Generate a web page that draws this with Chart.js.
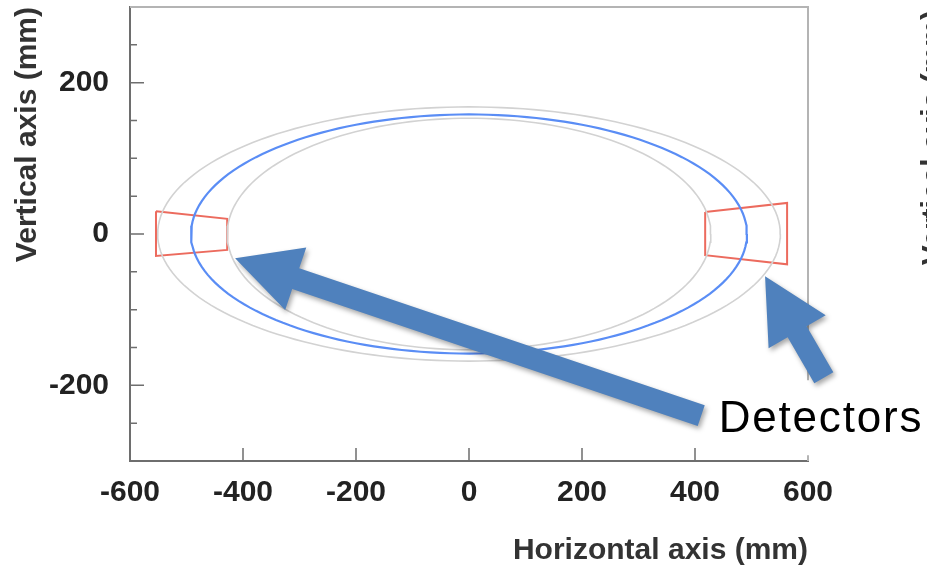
<!DOCTYPE html>
<html>
<head>
<meta charset="utf-8">
<script src="https://cdn.jsdelivr.net/npm/chart.js@4.4.1/dist/chart.umd.min.js"></script>
<style>
    html, body { margin: 0; padding: 0; background: #fff; }
    #marco { width: 927px; height: 570px; }
</style>
</head>
<body>
<div id="marco"><canvas id="grafico" width="927" height="570"></canvas></div>
<script>
// Ejes
const xTicks = [-600, -400, -200, 0, 200, 400, 600];
const yTicks = [-300, -250, -200, -150, -100, -50, 0, 50, 100, 150, 200, 250, 300];
const yLabels = [-200, 0, 200];

// Elipses (semiejes en mm, centradas en 0,0)
const ellipseNames = ['exterior', 'haz', 'interior'];
const ellipseHalfX = [551, 492, 428];
const ellipseHalfY = [168, 158, 153];

// Detectores (esquinas en mm)
const leftDetX = [-554, -428, -428, -554];
const leftDetY = [30, 20, -21, -29];
const rightDetX = [418, 563, 563, 418];
const rightDetY = [29, 41, -40, -28];

// Anotaciones (en mm)
const labelText = 'Detectors';
const labelAnchor = [442, -262];
const arrowTails = [[411, -240], [628, -190]];
const arrowTips = [[-414, -32], [524, -56]];

const COLORES = {
    GRIS: '#d2d2d2',
    AZUL: '#5a8df5',
    ROJO: '#ec6b5e',
    FLECHA: '#4f81bd',
    EJE: '#6e6e6e',
    MARCO: '#b4b4b4',
    TEXTO: '#222'
};
const FUENTE = '"Liberation Sans", Arial, Helvetica, sans-serif';

function elipse(ax, by) {
    const pts = [];
    for (let g = 0; g <= 360; g += 2) {
        const a = g * Math.PI / 180;
        pts.push({ x: ax * Math.cos(a), y: by * Math.sin(a) });
    }
    return pts;
}

function poligono(xs, ys) {
    const pts = xs.map((x, i) => ({ x, y: ys[i] }));
    pts.push(pts[0]);
    return pts;
}

const lineas = ellipseNames.map((nombre, i) => ({
    label: nombre,
    data: elipse(ellipseHalfX[i], ellipseHalfY[i]),
    borderColor: nombre === 'haz' ? COLORES.AZUL : COLORES.GRIS,
    borderWidth: nombre === 'haz' ? 2.2 : 1.6
}));
lineas.push({ label: 'det-izq', data: poligono(leftDetX, leftDetY), borderColor: COLORES.ROJO, borderWidth: 2 });
lineas.push({ label: 'det-der', data: poligono(rightDetX, rightDetY), borderColor: COLORES.ROJO, borderWidth: 2 });

function flecha(ctx, x0, y0, x1, y1) {
    const len = Math.hypot(x1 - x0, y1 - y0);
    const ux = (x1 - x0) / len, uy = (y1 - y0) / len;
    const nx = -uy, ny = ux;
    const w = 11, hw = 33, hl = 64;
    const bx = x1 - ux * hl, by = y1 - uy * hl;
    ctx.beginPath();
    ctx.moveTo(x0 + nx * w, y0 + ny * w);
    ctx.lineTo(bx + nx * w, by + ny * w);
    ctx.lineTo(bx + nx * hw, by + ny * hw);
    ctx.lineTo(x1, y1);
    ctx.lineTo(bx - nx * hw, by - ny * hw);
    ctx.lineTo(bx - nx * w, by - ny * w);
    ctx.lineTo(x0 - nx * w, y0 - ny * w);
    ctx.closePath();
    ctx.fill();
}

function sinRelleno(s) {
    s.paddingTop = 0;
    s.paddingBottom = 0;
    s.paddingLeft = 0;
    s.paddingRight = 0;
}

const marcoPlugin = {
    id: 'marco',
    beforeDatasetsDraw(chart) {
        const { ctx, chartArea: a, scales } = chart;
        ctx.save();
        // borde superior y derecho
        ctx.strokeStyle = COLORES.MARCO;
        ctx.lineWidth = 2;
        ctx.beginPath();
        ctx.moveTo(a.left, a.top);
        ctx.lineTo(a.right, a.top);
        ctx.lineTo(a.right, a.bottom);
        ctx.stroke();
        // marcas hacia dentro
        ctx.strokeStyle = COLORES.EJE;
        ctx.lineWidth = 1.5;
        ctx.beginPath();
        xTicks.slice(1, -1).forEach(v => {
            const px = scales.x.getPixelForValue(v);
            ctx.moveTo(px, a.bottom);
            ctx.lineTo(px, a.bottom - 13);
        });
        yTicks.slice(1, -1).forEach(v => {
            const py = scales.y.getPixelForValue(v);
            ctx.moveTo(a.left, py);
            ctx.lineTo(a.left + (yLabels.includes(v) ? 14 : 7), py);
        });
        ctx.stroke();
        ctx.restore();
    },
    afterDraw(chart) {
        const { ctx, chartArea: a, scales } = chart;
        const px = v => scales.x.getPixelForValue(v);
        const py = v => scales.y.getPixelForValue(v);
        ctx.save();

        // titulo cortado del panel vecino
        ctx.fillStyle = '#333';
        ctx.font = `bold 30px ${FUENTE}`;
        ctx.textAlign = 'right';
        ctx.textBaseline = 'middle';
        ctx.translate(chart.width + 7, a.top + 3);
        ctx.rotate(-Math.PI / 2);
        ctx.fillText('Vertical axis (mm)', 0, 0);
        ctx.setTransform(1, 0, 0, 1, 0, 0);

        // caja de texto
        const tx = px(labelAnchor[0]);
        const ty = py(labelAnchor[1]);
        ctx.fillStyle = '#fff';
        ctx.fillRect(tx - 8, ty - 52, chart.width - tx + 8, 75);

        // flechas
        ctx.fillStyle = COLORES.FLECHA;
        ctx.shadowColor = 'rgba(0,0,0,0.35)';
        ctx.shadowBlur = 5;
        ctx.shadowOffsetX = 2;
        ctx.shadowOffsetY = 3;
        arrowTails.forEach((t, i) => {
            flecha(ctx, px(t[0]), py(t[1]), px(arrowTips[i][0]), py(arrowTips[i][1]));
        });
        ctx.shadowColor = 'transparent';

        ctx.fillStyle = '#000';
        ctx.font = `44px ${FUENTE}`;
        ctx.letterSpacing = '1.8px';
        ctx.textAlign = 'left';
        ctx.textBaseline = 'alphabetic';
        ctx.fillText(labelText, tx, ty);
        ctx.restore();
    }
};

new Chart(document.getElementById('grafico').getContext('2d'), {
    type: 'scatter',
    data: { datasets: lineas },
    options: {
        responsive: false,
        animation: false,
        showLine: true,
        layout: { padding: { top: 7, right: 119, left: 0, bottom: 0 } },
        elements: { point: { radius: 0 }, line: { tension: 0, fill: false } },
        plugins: { legend: { display: false }, tooltip: { enabled: false } },
        scales: {
            x: {
                type: 'linear',
                min: -600,
                max: 600,
                afterBuildTicks: s => { s.ticks = xTicks.map(v => ({ value: v })); },
                afterFit: s => { s.height = 109; sinRelleno(s); },
                grid: { display: false, drawTicks: false },
                border: { display: true, color: COLORES.EJE, width: 2 },
                ticks: {
                    padding: 14,
                    maxRotation: 0,
                    autoSkip: false,
                    color: COLORES.TEXTO,
                    font: { family: FUENTE, size: 30, weight: 'bold' }
                },
                title: {
                    display: true,
                    text: 'Horizontal axis (mm)',
                    align: 'end',
                    color: '#333',
                    padding: { top: 0, bottom: 1 },
                    font: { family: FUENTE, size: 30, weight: 'bold' }
                }
            },
            y: {
                type: 'linear',
                min: -300,
                max: 300,
                afterBuildTicks: s => { s.ticks = yTicks.map(v => ({ value: v })); },
                afterFit: s => { s.width = 130; sinRelleno(s); },
                grid: { display: false, drawTicks: false },
                border: { display: true, color: COLORES.EJE, width: 2 },
                ticks: {
                    padding: 21,
                    autoSkip: false,
                    color: COLORES.TEXTO,
                    font: { family: FUENTE, size: 30, weight: 'bold' },
                    callback: v => (yLabels.includes(v) ? String(v) : '')
                },
                title: {
                    display: true,
                    text: 'Vertical axis (mm)',
                    align: 'end',
                    color: '#333',
                    padding: { top: 10, bottom: 0 },
                    font: { family: FUENTE, size: 30, weight: 'bold' }
                }
            }
        }
    },
    plugins: [marcoPlugin]
});
</script>
</body>
</html>
